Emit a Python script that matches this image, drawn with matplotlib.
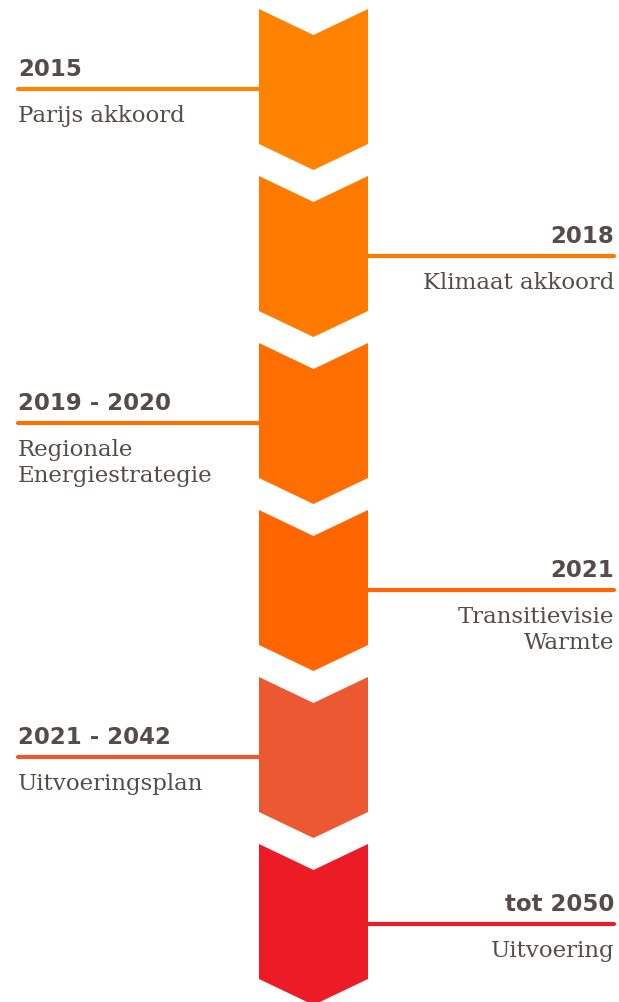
import matplotlib.pyplot as plt
from matplotlib.patches import Polygon

# Timeline data
years = ['2015', '2018', '2019 - 2020', '2021', '2021 - 2042', 'tot 2050']
labels = ['Parijs akkoord', 'Klimaat akkoord', 'Regionale\nEnergiestrategie',
          'Transitievisie\nWarmte', 'Uitvoeringsplan', 'Uitvoering']
sides = ['left', 'right', 'left', 'right', 'left', 'right']
colors = ['#FF8300', '#FF7B00', '#FF6E00', '#FF6600', '#EC5831', '#EC1C26']

text_color = '#564b4b'

# Layout in pixels
W, H = 619, 1003
x0, x1 = 259, 368          # chevron left / right edge
step = 167                 # vertical distance between chevrons
top0 = 10
body = 135                 # height of the straight sides
notch = 26                 # depth of notch / tip

fig = plt.figure(figsize=(W / 100, H / 100), dpi=100)
ax = fig.add_axes([0, 0, 1, 1])
ax.set_xlim(0, W)
ax.set_ylim(H, 0)
ax.axis('off')

xc = (x0 + x1) / 2
for i, (yr, lab, side, col) in enumerate(zip(years, labels, sides, colors)):
    t = top0 + i * step
    shape = [(x0, t), (xc, t + notch), (x1, t), (x1, t + body),
             (xc, t + body + notch), (x0, t + body)]
    ax.add_patch(Polygon(shape, closed=True, color=col, lw=0))

    ly = t + 80
    if side == 'left':
        ax.plot([18, x0], [ly, ly], color=col, lw=3, solid_capstyle='round')
        tx, ha = 18, 'left'
    else:
        ax.plot([x1, 614], [ly, ly], color=col, lw=3, solid_capstyle='round')
        tx, ha = 614, 'right'

    ax.text(tx, t + 66, yr, ha=ha, va='baseline', fontsize=16.5,
            fontfamily='DejaVu Sans', fontweight='bold', color=text_color)
    for k, line in enumerate(lab.split('\n')):
        ax.text(tx, t + 112 + 26 * k, line, ha=ha, va='baseline', fontsize=16.5,
                fontfamily='DejaVu Serif', color=text_color)

fig.savefig('out.png', dpi=100)
